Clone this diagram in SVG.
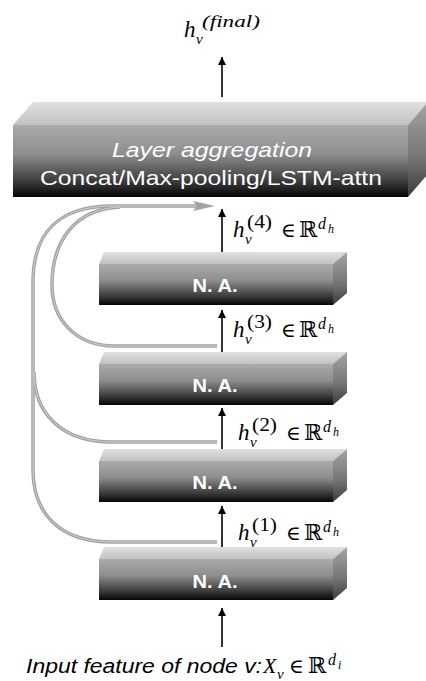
<svg xmlns="http://www.w3.org/2000/svg" width="426" height="681" viewBox="0 0 426 681">
<defs>
<linearGradient id="gFront" x1="0" y1="0" x2="0" y2="1">
<stop offset="0" stop-color="#ababab"/>
<stop offset="0.4" stop-color="#8e8e8e"/>
<stop offset="0.78" stop-color="#3c3c3c"/>
<stop offset="1" stop-color="#050505"/>
</linearGradient>
<linearGradient id="gTop" x1="0" y1="0" x2="0" y2="1">
<stop offset="0" stop-color="#e0e0e0"/>
<stop offset="1" stop-color="#c2c2c2"/>
</linearGradient>
<linearGradient id="gSide" x1="0" y1="0" x2="0" y2="1">
<stop offset="0" stop-color="#a4a4a4"/>
<stop offset="0.6" stop-color="#747474"/>
<stop offset="1" stop-color="#3a3a3a"/>
</linearGradient>
<marker id="ah" viewBox="0 0 10 10" refX="10" refY="5" markerWidth="8" markerHeight="8" markerUnits="userSpaceOnUse" orient="auto">
<path d="M0,0 L10,5 L0,10 z" fill="#000"/>
</marker>
</defs>
<style>
.front{fill:url(#gFront)}
.top{fill:url(#gTop)}
.side{fill:url(#gSide)}
.na{font-family:"Liberation Sans",Arial,sans-serif;font-size:19px;font-weight:bold;fill:#fff}
.agg{font-family:"Liberation Sans",Arial,sans-serif;font-size:21px;fill:#fff}
.arr{stroke:#000;stroke-width:1.6;fill:none;marker-end:url(#ah)}
.skip{stroke:#a2a2a2;stroke-width:3.5;fill:none}
.skiph{stroke:#cfcfcf;stroke-width:1;fill:none}
.mi{font-family:"Liberation Serif","DejaVu Serif",serif;font-style:italic;fill:#000}
.mr{font-family:"Liberation Serif","DejaVu Serif",serif;fill:#000}
.ms{font-family:"DejaVu Serif",serif;fill:#000}
.cap{font-family:"Liberation Sans",Arial,sans-serif;font-style:italic;font-size:20px;fill:#000}
</style>

<g id="aggregation">
<polygon class="top" points="13,125 33,102 428,102 408,125"/>
<rect class="front" x="13" y="125" width="395" height="72"/>
<polygon class="side" points="408,125 428,102 428,174 408,197"/>
<text class="agg" x="212" y="157" text-anchor="middle" font-style="italic" textLength="200" lengthAdjust="spacingAndGlyphs">Layer aggregation</text>
<text class="agg" x="211" y="185" text-anchor="middle" textLength="342" lengthAdjust="spacingAndGlyphs">Concat/Max-pooling/LSTM-attn</text>
</g>

<g id="na4">
<polygon class="top" points="99,264 104,252 347,252 333,264"/>
<rect class="front" x="99" y="264" width="234" height="41"/>
<polygon class="side" points="333,264 347,252 347,293 333,305"/>
<text class="na" x="215" y="292" text-anchor="middle" textLength="45" lengthAdjust="spacingAndGlyphs">N. A.</text>
</g>
<g id="na3">
<polygon class="top" points="99,364 104,352 347,352 333,364"/>
<rect class="front" x="99" y="364" width="234" height="41"/>
<polygon class="side" points="333,364 347,352 347,393 333,405"/>
<text class="na" x="215" y="392" text-anchor="middle" textLength="45" lengthAdjust="spacingAndGlyphs">N. A.</text>
</g>
<g id="na2">
<polygon class="top" points="99,461 104,449 347,449 333,461"/>
<rect class="front" x="99" y="461" width="234" height="41"/>
<polygon class="side" points="333,461 347,449 347,490 333,502"/>
<text class="na" x="215" y="489" text-anchor="middle" textLength="45" lengthAdjust="spacingAndGlyphs">N. A.</text>
</g>
<g id="na1">
<polygon class="top" points="99,559 104,547 347,547 333,559"/>
<rect class="front" x="99" y="559" width="234" height="41"/>
<polygon class="side" points="333,559 347,547 347,588 333,600"/>
<text class="na" x="215" y="588" text-anchor="middle" textLength="45" lengthAdjust="spacingAndGlyphs">N. A.</text>
</g>

<g id="connectors">
<path class="arr" d="M222,97 V57"/>
<path class="arr" d="M222,252 V209"/>
<path class="arr" d="M222,352 V310"/>
<path class="arr" d="M222,449 V408"/>
<path class="arr" d="M222,547 V506"/>
<path class="arr" d="M222,647 V608"/>
<path class="skip" d="M217,542 H112 C58,542 33,512 33,470 V282 C33,232 60,206 112,206 H200"/>
<path class="skip" d="M217,442 H112 C60,442 34,412 34,372"/>
<path class="skip" d="M217,346 H115 C74,346 52,318 52,285 C52,242 74,209 120,207"/>
<path class="skiph" d="M217,542 H112 C58,542 33,512 33,470 V282 C33,232 60,206 112,206 H200"/>
<path class="skiph" d="M217,442 H112 C60,442 34,412 34,372"/>
<path class="skiph" d="M217,346 H115 C74,346 52,318 52,285 C52,242 74,209 120,207"/>
<polygon points="215,206 193,201 197,206 193,211" fill="#a2a2a2"/>
</g>

<g id="label-final">
<text class="mi" x="184" y="37" font-size="23">h</text>
<text class="mi" x="196" y="44" font-size="15">v</text>
<text class="mi" x="202" y="27" font-size="17" textLength="58" lengthAdjust="spacingAndGlyphs">(final)</text>
</g>

<g id="label-h4">
<text class="mi" x="233" y="237" font-size="23">h</text>
<text class="mi" x="245" y="244" font-size="15">v</text>
<text class="mr" x="247" y="228" font-size="18" textLength="25" lengthAdjust="spacingAndGlyphs">(4)</text>
<text class="ms" x="281" y="237" font-size="20">∈</text>
<text class="ms" x="299" y="237" font-size="22">ℝ</text>
<text class="mi" x="318" y="229" font-size="16">d</text>
<text class="mi" x="328" y="233" font-size="12">h</text>
</g>
<g id="label-h3">
<text class="mi" x="233" y="337" font-size="23">h</text>
<text class="mi" x="245" y="344" font-size="15">v</text>
<text class="mr" x="247" y="328" font-size="18" textLength="25" lengthAdjust="spacingAndGlyphs">(3)</text>
<text class="ms" x="281" y="337" font-size="20">∈</text>
<text class="ms" x="299" y="337" font-size="22">ℝ</text>
<text class="mi" x="318" y="329" font-size="16">d</text>
<text class="mi" x="328" y="333" font-size="12">h</text>
</g>
<g id="label-h2">
<text class="mi" x="238" y="440" font-size="23">h</text>
<text class="mi" x="250" y="447" font-size="15">v</text>
<text class="mr" x="252" y="431" font-size="18" textLength="25" lengthAdjust="spacingAndGlyphs">(2)</text>
<text class="ms" x="286" y="440" font-size="20">∈</text>
<text class="ms" x="304" y="440" font-size="22">ℝ</text>
<text class="mi" x="323" y="432" font-size="16">d</text>
<text class="mi" x="333" y="436" font-size="12">h</text>
</g>
<g id="label-h1">
<text class="mi" x="238" y="540" font-size="23">h</text>
<text class="mi" x="250" y="547" font-size="15">v</text>
<text class="mr" x="252" y="531" font-size="18" textLength="25" lengthAdjust="spacingAndGlyphs">(1)</text>
<text class="ms" x="286" y="540" font-size="20">∈</text>
<text class="ms" x="304" y="540" font-size="22">ℝ</text>
<text class="mi" x="323" y="532" font-size="16">d</text>
<text class="mi" x="333" y="536" font-size="12">h</text>
</g>

<g id="label-input">
<text class="cap" x="26" y="673" textLength="236" lengthAdjust="spacingAndGlyphs">Input feature of node v:</text>
<text class="mi" x="263" y="673" font-size="22">X</text>
<text class="mi" x="277" y="679" font-size="15">v</text>
<text class="ms" x="289" y="673" font-size="20">∈</text>
<text class="ms" x="308" y="673" font-size="22">ℝ</text>
<text class="mi" x="328" y="665" font-size="16">d</text>
<text class="mi" x="338" y="669" font-size="12">i</text>
</g>
</svg>
